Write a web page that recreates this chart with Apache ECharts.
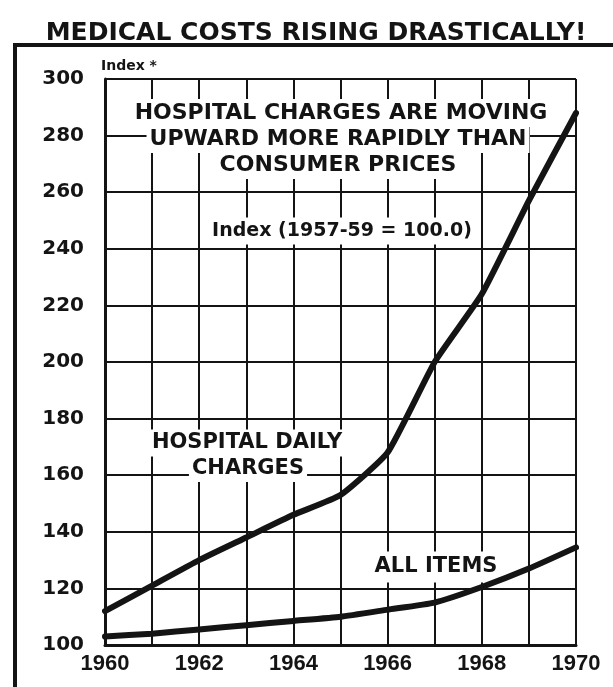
<!DOCTYPE html>
<html><head><meta charset="utf-8">
<script src="https://cdn.jsdelivr.net/npm/echarts@6/dist/echarts.min.js"></script>
<style>html,body{margin:0;padding:0;background:#fff}#c{width:613px;height:687px}</style>
</head><body><div id="c"></div>
<script>
const years = [1960, 1961, 1962, 1963, 1964, 1965, 1966, 1967, 1968, 1969, 1970];
const hospitalDailyCharges = [112, 121, 130, 138, 146, 153, 168, 200, 224, 257, 288];
const allItems = [103, 104, 105.5, 107, 108.5, 110, 112.5, 115, 120.5, 127, 134.5];
const xLabelYears = [1960, 1962, 1964, 1966, 1968, 1970];
const yMin = 100, yMax = 300, yStep = 20;
const titleText = 'MEDICAL COSTS RISING DRASTICALLY!';
const headlineLines = ['HOSPITAL CHARGES ARE MOVING', 'UPWARD MORE RAPIDLY THAN', 'CONSUMER PRICES'];
const indexNote = 'Index (1957-59 = 100.0)';
const axisNote = 'Index *';
const hospitalLabel = ['HOSPITAL DAILY', 'CHARGES'];
const allItemsLabel = 'ALL ITEMS';

const INK = '#141414';
const FONT = 'DejaVu Sans';
const chart = echarts.init(document.getElementById('c'), null, {renderer: 'canvas'});

function txt(text, x, y, size, bg, pad) {
  return {
    type: 'text', x: x, y: y, z: 3,
    style: {
      text: text, fill: INK, font: 'bold ' + size + 'px "' + FONT + '"',
      align: 'center', verticalAlign: 'middle',
      backgroundColor: bg ? '#fff' : null, padding: pad || 0
    }
  };
}

const graphics = [
  {type: 'polyline', z: 100, shape: {points: [[15, 687], [15, 45], [613, 45]]},
   style: {stroke: INK, lineWidth: 4, fill: null}},
  txt(titleText, 316, 33, 25, false),
  {type: 'text', x: 101, y: 66, z: 3,
   style: {text: axisNote, fill: INK, font: 'bold 14px "' + FONT + '"', align: 'left', verticalAlign: 'middle'}},
  txt(headlineLines[0], 341, 113, 22, true, [3, 3, 3, 3]),
  txt(headlineLines[1], 338, 139, 22, true, [3, 3, 3, 3]),
  txt(headlineLines[2], 338, 165, 22, true, [3, 3, 3, 3]),
  txt(indexNote, 342, 231, 19, true, [4, 3, 4, 3]),
  txt(hospitalLabel[0], 247, 443, 21, true, [3, 3, 3, 3]),
  txt(hospitalLabel[1], 248, 469, 21, true, [2, 3, 3, 3]),
  txt(allItemsLabel, 436, 567, 21, true, [5, 4, 5, 4])
];

chart.setOption({
  backgroundColor: '#fff',
  animation: false,
  grid: {left: 105, right: 37, top: 79, bottom: 42, containLabel: false},
  xAxis: {
    type: 'value', min: years[0], max: years[years.length - 1], interval: 1,
    axisLine: {show: true, lineStyle: {color: INK, width: 3}},
    axisTick: {show: false},
    axisLabel: {
      color: INK, fontFamily: 'Liberation Sans', fontWeight: 'bold', fontSize: 22, margin: 8,
      formatter: v => xLabelYears.indexOf(v) >= 0 ? String(v) : ''
    },
    splitLine: {show: true, lineStyle: {color: INK, width: 2}}
  },
  yAxis: {
    type: 'value', min: yMin, max: yMax, interval: yStep,
    axisLine: {show: true, lineStyle: {color: INK, width: 3}},
    axisTick: {show: false},
    axisLabel: {color: INK, fontFamily: FONT, fontWeight: 'bold', fontSize: 20, margin: 21, padding: [0, 0, 12, 0]},
    splitLine: {show: true, lineStyle: {color: INK, width: 2}}
  },
  series: [
    {name: 'Hospital daily charges', type: 'line', symbol: 'none', smooth: 0.15,
     data: years.map((y, i) => [y, hospitalDailyCharges[i]]),
     lineStyle: {color: INK, width: 6, cap: 'round', join: 'round'}, z: 5},
    {name: 'All items', type: 'line', symbol: 'none', smooth: 0.15,
     data: years.map((y, i) => [y, allItems[i]]),
     lineStyle: {color: INK, width: 6, cap: 'round', join: 'round'}, z: 5}
  ],
  graphic: graphics
});
</script>
</body></html>
